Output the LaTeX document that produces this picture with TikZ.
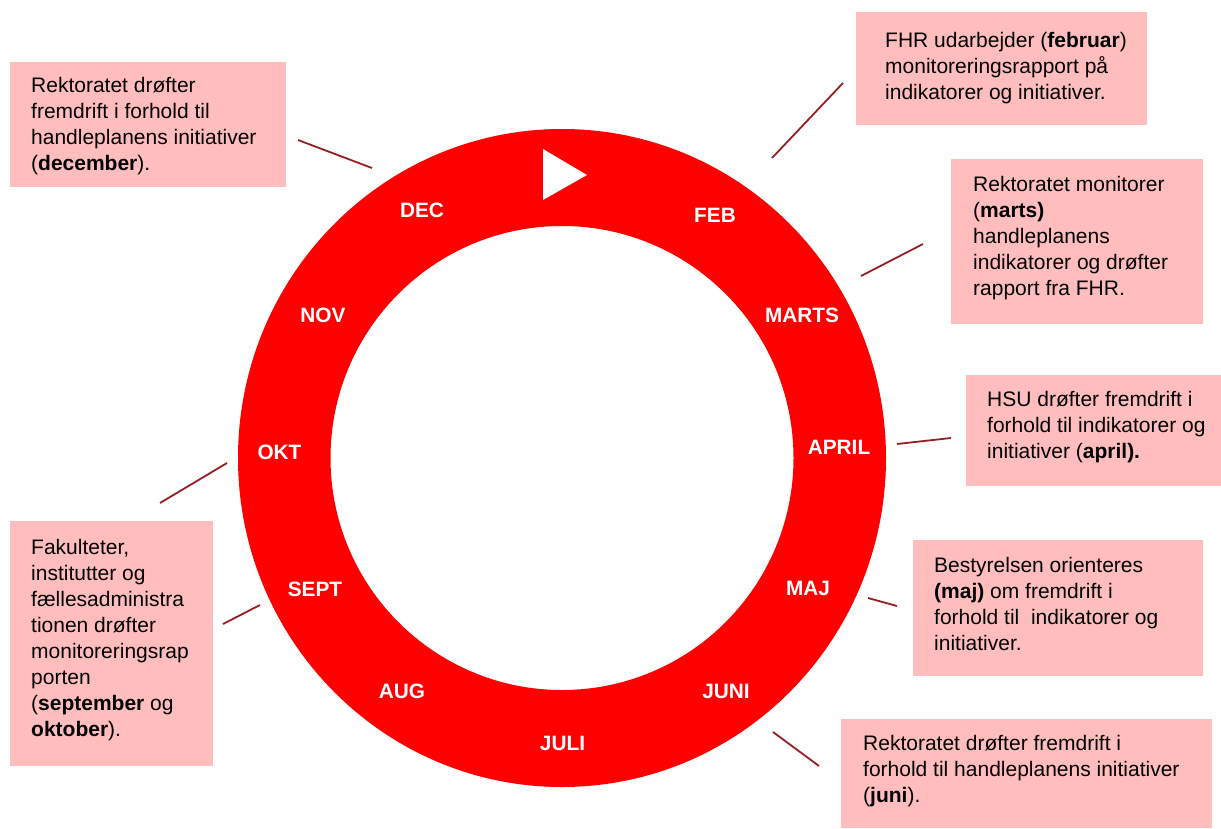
\documentclass[tikz,border=0pt]{standalone}
\usepackage{fontspec}
\setmainfont{Liberation Sans}
\definecolor{ringred}{RGB}{255,0,0}
\definecolor{boxpink}{RGB}{255,189,189}
\definecolor{linered}{RGB}{150,30,35}
\begin{document}
\begin{tikzpicture}[x=1pt,y=-1pt,
  boxtext/.style={anchor=north west,inner sep=0,align=left,font=\fontsize{21}{26}\selectfont,text=black},
  month/.style={text=white,font=\fontsize{20.8}{24}\selectfont\bfseries,inner sep=0},
  conn/.style={draw=linered,line width=1.8pt}]
\useasboundingbox (0,0) rectangle (1221,828);
% ring
\fill[ringred,even odd rule] (562,458) ellipse [x radius=324,y radius=329] (562,458) ellipse [x radius=231.5,y radius=232];
% start triangle
\fill[white] (543,149) -- (587,175) -- (543,200) -- cycle;
% months
\node[month] (dec) at (422,210) {DEC};
\node[month] (feb) at (715,215) {FEB};
\node[month] (nov) at (323,315) {NOV};
\node[month] (marts) at (802,315) {MARTS};
\node[month] (okt) at (279.5,452) {OKT};
\node[month] (april) at (839,447) {APRIL};
\node[month] (sept) at (315,589) {SEPT};
\node[month] (maj) at (808,588) {MAJ};
\node[month] (aug) at (402,691) {AUG};
\node[month] (juni) at (726,691) {JUNI};
\node[month] (juli) at (562.5,743) {JULI};
% boxes
\fill[boxpink] (10,62) rectangle (286,187);
\fill[boxpink] (856,12) rectangle (1147,125);
\fill[boxpink] (951,159) rectangle (1203,324);
\fill[boxpink] (966,375) rectangle (1221,486);
\fill[boxpink] (913,540) rectangle (1203,676);
\fill[boxpink] (10,521) rectangle (213,766);
\fill[boxpink] (841,719) rectangle (1212,828);
% texts
\node[boxtext] (tdec) at (31,74) {\strut Rektoratet drøfter\\fremdrift i forhold til\\handleplanens initiativer\\(\textbf{december}).};
\node[boxtext] (tfeb) at (885,29) {\strut FHR udarbejder (\textbf{februar})\\monitoreringsrapport på\\indikatorer og initiativer.};
\node[boxtext] (tmar) at (973,173) {\strut Rektoratet monitorer\\(\textbf{marts)}\\handleplanens\\indikatorer og drøfter\\rapport fra FHR.};
\node[boxtext] (tapr) at (987,388) {\strut HSU drøfter fremdrift i\\forhold til indikatorer og\\initiativer (\textbf{april).}};
\node[boxtext] (tmaj) at (934,554) {\strut Bestyrelsen orienteres\\\textbf{(maj)} om fremdrift i\\forhold til\ \ indikatorer og\\initiativer.};
\node[boxtext] (tsep) at (31,536) {\strut Fakulteter,\\institutter og\\fællesadministra\\tionen drøfter\\monitoreringsrap\\porten\\(\textbf{september} og\\\textbf{oktober}).};
\node[boxtext] (tjun) at (863,732) {\strut Rektoratet drøfter fremdrift i\\forhold til handleplanens initiativer\\(\textbf{juni}).};
% connectors
\coordinate (a1) at (298,140); \coordinate (b1) at (372,168);
\coordinate (a2) at (772,158); \coordinate (b2) at (843,83);
\coordinate (a3) at (861,276); \coordinate (b3) at (923,244);
\coordinate (a4) at (897,444); \coordinate (b4) at (951,438);
\coordinate (a5) at (868,598); \coordinate (b5) at (897,606);
\coordinate (a6) at (160,503); \coordinate (b6) at (227,463);
\coordinate (a7) at (223,624); \coordinate (b7) at (260,605);
\coordinate (a8) at (773,732); \coordinate (b8) at (819,766);
\foreach \i in {1,...,8} {\draw[conn] (a\i) -- (b\i);}
\end{tikzpicture}
\end{document}
